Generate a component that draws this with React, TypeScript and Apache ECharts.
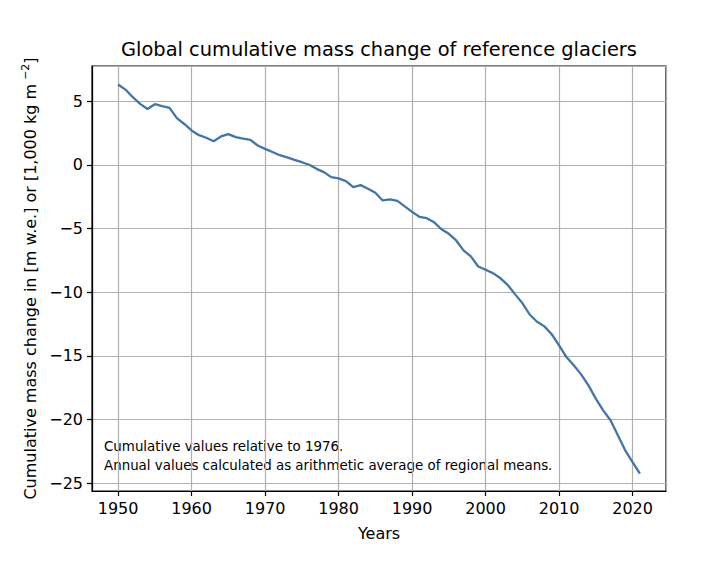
import React, { useEffect, useRef } from "react";
import * as echarts from "echarts";

const years = [
  1950, 1951, 1952, 1953, 1954, 1955, 1956, 1957, 1958, 1959,
  1960, 1961, 1962, 1963, 1964, 1965, 1966, 1967, 1968, 1969,
  1970, 1971, 1972, 1973, 1974, 1975, 1976, 1977, 1978, 1979,
  1980, 1981, 1982, 1983, 1984, 1985, 1986, 1987, 1988, 1989,
  1990, 1991, 1992, 1993, 1994, 1995, 1996, 1997, 1998, 1999,
  2000, 2001, 2002, 2003, 2004, 2005, 2006, 2007, 2008, 2009,
  2010, 2011, 2012, 2013, 2014, 2015, 2016, 2017, 2018, 2019,
  2020, 2021,
];

const massChange = [
  6.3, 5.9, 5.3, 4.78, 4.38, 4.75, 4.6, 4.47, 3.66, 3.2,
  2.69, 2.32, 2.12, 1.85, 2.22, 2.4, 2.17, 2.06, 1.96, 1.51,
  1.25, 1.0, 0.75, 0.58, 0.39, 0.2, 0.0, -0.32, -0.58, -0.97,
  -1.07, -1.28, -1.75, -1.6, -1.88, -2.2, -2.8, -2.72, -2.83, -3.27,
  -3.7, -4.08, -4.19, -4.52, -5.06, -5.42, -5.94, -6.72, -7.19, -7.98,
  -8.24, -8.5, -8.89, -9.42, -10.15, -10.85, -11.75, -12.32, -12.68, -13.3,
  -14.17, -15.09, -15.74, -16.45, -17.31, -18.35, -19.27, -20.05, -21.23, -22.41,
  -23.33, -24.24,
];

const titleText = "Global cumulative mass change of reference glaciers";
const xAxisTitle = "Years";
const noteLines = [
  "Cumulative values relative to 1976.",
  "Annual values calculated as arithmetic average of regional means.",
];

const FONT = "DejaVu Sans";

const fmt = (v: number) => String(v).replace("-", "\u2212");

export default function App() {
  const ref = useRef<HTMLDivElement>(null);

  useEffect(() => {
    if (!ref.current) return;
    const chart = echarts.init(ref.current, undefined, { renderer: "svg" });
    const data = years.map((y, i) => [y, massChange[i]]);
    chart.setOption({
      animation: false,
      backgroundColor: "#ffffff",
      textStyle: { fontFamily: FONT },
      grid: {
        left: 92,
        right: 55,
        top: 66,
        bottom: 77,
        show: true,
        borderColor: "#000",
        borderWidth: 1.2,
        backgroundColor: "transparent",
      },
      xAxis: {
        type: "value",
        min: 1946.45,
        max: 2024.55,
        minInterval: 10,
        maxInterval: 10,
        splitNumber: 8,
        name: xAxisTitle,
        nameLocation: "middle",
        nameGap: 34,
        nameTextStyle: { fontFamily: FONT, fontSize: 16, color: "#000" },
        axisLine: { show: true, onZero: false, lineStyle: { color: "#000", width: 1.2 } },
        axisTick: { show: true, inside: false, length: 5, lineStyle: { color: "#000", width: 1.2 } },
        axisLabel: {
          show: true,
          showMinLabel: false,
          showMaxLabel: false,
          margin: 9,
          fontFamily: FONT,
          fontSize: 16,
          color: "#000",
          formatter: (v: number) => String(v),
        },
        splitLine: { show: true, lineStyle: { color: "#b0b0b0", width: 1.2 } },
      },
      yAxis: {
        type: "value",
        min: -25.6,
        max: 7.75,
        minInterval: 5,
        maxInterval: 5,
        splitNumber: 6,
        name: "{a|Cumulative mass change in [m w.e.] or [1,000 kg m}{s|\u22122}{a|]}",
        nameLocation: "middle",
        nameGap: 52,
        nameRotate: 90,
        nameTextStyle: {
          fontFamily: FONT,
          fontSize: 16,
          color: "#000",
          rich: {
            a: { fontFamily: FONT, fontSize: 16, color: "#000" },
            s: { fontFamily: FONT, fontSize: 11, color: "#000", padding: [0, 0, 9, 4] },
          },
        },
        axisLine: { show: true, onZero: false, lineStyle: { color: "#000", width: 1.2 } },
        axisTick: { show: true, inside: false, length: 5, lineStyle: { color: "#000", width: 1.2 } },
        axisLabel: {
          show: true,
          showMinLabel: false,
          showMaxLabel: false,
          margin: 9,
          fontFamily: FONT,
          fontSize: 16,
          color: "#000",
          formatter: (v: number) => fmt(v),
        },
        splitLine: { show: true, lineStyle: { color: "#b0b0b0", width: 1.2 } },
      },
      graphic: [
        {
          type: "text",
          x: 379,
          y: 49,
          style: {
            text: titleText,
            fontFamily: FONT,
            fontSize: 19.4,
            fill: "#000",
            textAlign: "center",
            textVerticalAlign: "middle",
          },
        },
        {
          type: "text",
          left: 104,
          top: 437,
          style: {
            text: noteLines.join("\n"),
            fontFamily: FONT,
            fontSize: 13.4,
            lineHeight: 19,
            fill: "#000",
          },
        },
      ],
      series: [
        {
          type: "line",
          data,
          showSymbol: false,
          symbol: "none",
          lineStyle: { color: "#4376a8", width: 2.3 },
          z: 3,
        },
      ],
    });
    return () => chart.dispose();
  }, []);

  return (
    <div
      ref={ref}
      style={{ position: "fixed", left: 0, top: 0, width: 721, height: 568, background: "#fff" }}
    />
  );
}
